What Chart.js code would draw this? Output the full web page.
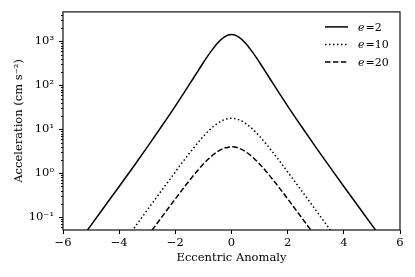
<!DOCTYPE html>
<html>
<head>
<meta charset="utf-8">
<script src="https://cdn.jsdelivr.net/npm/chart.js@4"></script>
<style>
  body { margin: 0; background: #fff; }
  #wrap { width: 415px; height: 277px; }
</style>
</head>
<body>
<div id="wrap"><canvas id="accelChart" width="415" height="277"></canvas></div>
<script>
// values
const anomaly = [-6, -5.5, -5, -4.5, -4, -3.5, -3, -2.5, -2, -1.75, -1.5, -1.25, -1, -0.75, -0.5, -0.25,
                 0, 0.25, 0.5, 0.75, 1, 1.25, 1.5, 1.75, 2, 2.5, 3, 3.5, 4, 4.5, 5, 5.5, 6];
const accelE2 = [0.0089, 0.0243, 0.066, 0.182, 0.50, 1.39, 3.93, 11.4, 33.8, 59.3, 105, 187, 331, 570, 914, 1275,
                 1440, 1275, 914, 570, 331, 187, 105, 59.3, 33.8, 11.4, 3.93, 1.39, 0.50, 0.182, 0.066, 0.0243, 0.0089];
const accelE10 = [0.00035, 0.00096, 0.0026, 0.0071, 0.0195, 0.053, 0.145, 0.396, 1.07, 1.76, 2.84, 4.50, 6.91, 10.1, 13.6, 16.6,
                  17.8, 16.6, 13.6, 10.1, 6.91, 4.50, 2.84, 1.76, 1.07, 0.396, 0.145, 0.053, 0.0195, 0.0071, 0.0026, 0.00096, 0.00035];
const accelE20 = [0.000089, 0.00024, 0.00066, 0.0018, 0.0048, 0.0132, 0.036, 0.097, 0.261, 0.424, 0.68, 1.07, 1.62, 2.32, 3.10, 3.74,
                  3.99, 3.74, 3.10, 2.32, 1.62, 1.07, 0.68, 0.424, 0.261, 0.097, 0.036, 0.0132, 0.0048, 0.0018, 0.00066, 0.00024, 0.000089];
const eccentricities = [2, 10, 20];
const yMajorTicks = [0.1, 1, 10, 100, 1000];
const yTickLabels = ['10\u207B\u00B9', '10\u2070', '10\u00B9', '10\u00B2', '10\u00B3'];

const FONT = "'DejaVu Serif', serif";
const dashes = [[], [1.5, 2.5], [5.5, 2.4]];

function toPoints(values) {
    return anomaly.map((x, i) => ({x: x, y: values[i]}));
}

const seriesValues = [accelE2, accelE10, accelE20];
const datasets = seriesValues.map((vals, i) => ({
    label: 'e=' + eccentricities[i],
    data: toPoints(vals),
    borderColor: '#000',
    borderWidth: 1.5,
    borderDash: dashes[i],
    pointRadius: 0,
    fill: false,
    cubicInterpolationMode: 'monotone'
}));

// frame, minor log ticks and the in-plot legend
const framePlugin = {
    id: 'frame',
    afterDraw(chart) {
        const ctx = chart.ctx;
        const a = chart.chartArea;
        const y = chart.scales.y;
        ctx.save();
        ctx.strokeStyle = '#111';
        ctx.lineWidth = 1.2;
        ctx.setLineDash([]);
        ctx.strokeRect(a.left, a.top, a.right - a.left, a.bottom - a.top);

        // minor ticks on the log axis
        ctx.lineWidth = 1;
        ctx.strokeStyle = '#000';
        for (let exp = -2; exp <= 3; exp++) {
            for (let m = 2; m <= 9; m++) {
                const v = m * Math.pow(10, exp);
                if (v < y.min || v > y.max) continue;
                const py = Math.round(y.getPixelForValue(v)) + 0.5;
                ctx.beginPath();
                ctx.moveTo(a.left - 2, py);
                ctx.lineTo(a.left, py);
                ctx.stroke();
            }
        }

        // legend
        chart.data.datasets.forEach((ds, i) => {
            const ly = a.top + 15 + i * 17.5;
            ctx.lineWidth = 1.5;
            ctx.setLineDash(ds.borderDash);
            ctx.beginPath();
            ctx.moveTo(a.right - 75, ly);
            ctx.lineTo(a.right - 52, ly);
            ctx.stroke();
            ctx.setLineDash([]);
            ctx.fillStyle = '#000';
            ctx.textBaseline = 'middle';
            ctx.textAlign = 'left';
            let tx = a.right - 42;
            ctx.font = "italic 11px " + FONT;
            ctx.fillText('e', tx, ly + 1);
            tx += ctx.measureText('e').width + 1;
            ctx.font = "11px " + FONT;
            ctx.fillText('=' + eccentricities[i], tx, ly + 1);
        });
        ctx.restore();
    }
};

Chart.defaults.color = '#000';
Chart.defaults.font.family = FONT;
Chart.defaults.font.size = 11.5;

new Chart(document.getElementById('accelChart').getContext('2d'), {
    type: 'line',
    data: { datasets: datasets },
    options: {
        responsive: false,
        animation: false,
        layout: { padding: { top: 10, right: 15, left: 0, bottom: 0 } },
        plugins: {
            legend: { display: false },
            tooltip: { enabled: false }
        },
        scales: {
            x: {
                type: 'linear',
                min: -6,
                max: 6,
                border: { display: false },
                grid: { drawOnChartArea: false, drawTicks: true, tickLength: 4, color: '#000' },
                ticks: {
                    stepSize: 2,
                    padding: 2,
                    maxRotation: 0,
                    callback: v => v < 0 ? '\u2212' + Math.abs(v) : String(v)
                },
                title: {
                    display: true,
                    text: 'Eccentric Anomaly',
                    padding: { top: 0, bottom: 12 }
                },
                afterFit: scale => { scale.height = 47; }
            },
            y: {
                type: 'logarithmic',
                min: 0.051,
                max: 4700,
                border: { display: false },
                grid: { drawOnChartArea: false, drawTicks: true, tickLength: 4, color: '#000' },
                afterBuildTicks: scale => {
                    scale.ticks = yMajorTicks.map(v => ({value: v, major: true}));
                },
                ticks: {
                    padding: 5,
                    callback: v => {
                        const idx = yMajorTicks.findIndex(t => Math.abs(t - v) / t < 1e-6);
                        return idx >= 0 ? yTickLabels[idx] : '';
                    }
                },
                title: {
                    display: true,
                    text: 'Acceleration (cm s\u207B\u00B2)',
                    padding: { top: 12, bottom: 0 }
                },
                afterFit: scale => { scale.width = 63; }
            }
        }
    },
    plugins: [framePlugin]
});
</script>
</body>
</html>
